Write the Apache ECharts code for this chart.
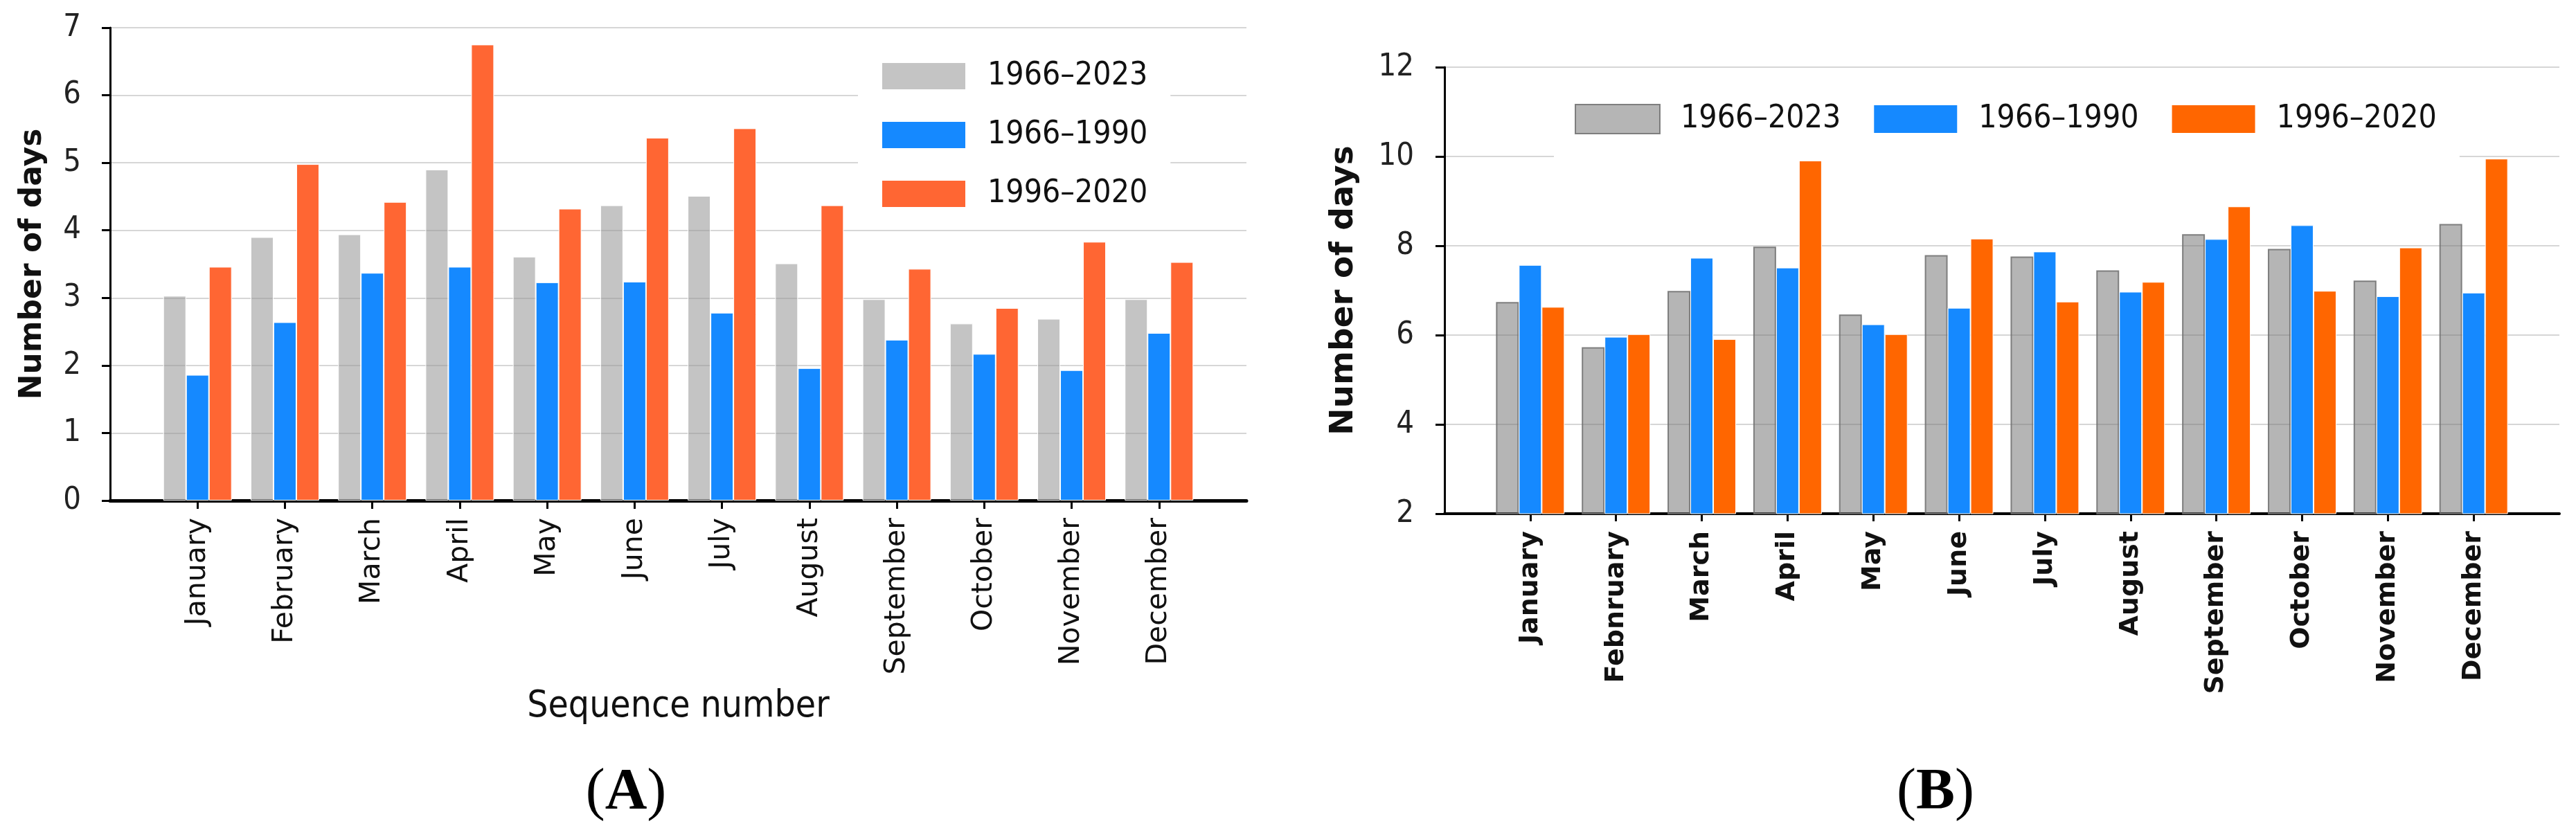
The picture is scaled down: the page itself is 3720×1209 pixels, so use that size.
<!DOCTYPE html>
<html><head><meta charset="utf-8">
<script src="https://cdn.jsdelivr.net/npm/echarts@6/dist/echarts.min.js"></script>
<style>
html,body{margin:0;padding:0;background:#fff;}
#a,#b{position:absolute;top:0;width:1860px;height:1209px;}
#a{left:0}#b{left:1860px}
</style>
</head><body><div id="a"></div><div id="b"></div>
<script>
// ---- data ----
const monthsA = ['January','February','March','April','May','June','July','August','September','October','November','December'];
const monthsB = ['January','Febnruary','March','April','May','June','July','August','September','October','November','December'];
const seriesNames = ['1966–2023','1966–1990','1996–2020'];
// Panel A
const aAll   = [3.03, 3.90, 3.94, 4.90, 3.61, 4.37, 4.51, 3.51, 2.98, 2.62, 2.69, 2.98];
const aEarly = [1.86, 2.64, 3.37, 3.46, 3.23, 3.24, 2.78, 1.96, 2.38, 2.17, 1.93, 2.48];
const aLate  = [3.46, 4.98, 4.42, 6.75, 4.32, 5.37, 5.51, 4.37, 3.43, 2.85, 3.83, 3.53];
// Panel B
const bAll   = [6.74, 5.73, 6.99, 7.98, 6.46, 7.79, 7.76, 7.45, 8.26, 7.93, 7.22, 8.49];
const bEarly = [7.57, 5.96, 7.73, 7.51, 6.24, 6.61, 7.87, 6.97, 8.15, 8.46, 6.87, 6.95];
const bLate  = [6.63, 6.02, 5.91, 9.92, 6.02, 8.16, 6.75, 7.19, 8.88, 6.99, 7.96, 9.95];
// axis ticks
const yTicksA = [0, 1, 2, 3, 4, 5, 6, 7];
const yTicksB = [2, 4, 6, 8, 10, 12];
const yNameA = 'Number of days';
const yNameB = 'Number of days';
const xNameA = 'Sequence number';

// ---- helpers ----
const COND = '"DejaVu Sans Condensed", "Liberation Sans Narrow", sans-serif';
const SANS = '"DejaVu Sans", Verdana, sans-serif';
const pad = v => [null].concat(v, [null]);
const padCat = c => [''].concat(c, ['']);

function makeOption(cfg) {
  return {
    animation: false,
    backgroundColor: '#fff',
    grid: cfg.grid,
    legend: Object.assign({
      icon: 'rect', selectedMode: false, backgroundColor: '#fff',
      data: seriesNames,
      textStyle: { fontFamily: COND, fontSize: 46, color: '#111', padding: [0, 0, 0, 26] }
    }, cfg.legend),
    xAxis: {
      type: 'category', boundaryGap: false, data: padCat(cfg.cats),
      name: cfg.xName || '', nameLocation: 'middle', nameGap: cfg.xNameGap || 0,
      nameTextStyle: { fontFamily: COND, fontSize: 53, color: '#111' },
      axisLine: { lineStyle: { color: '#000', width: cfg.xAxisWidth } },
      axisTick: { show: true, interval: (i, v) => v !== '', length: cfg.tickLen, lineStyle: { color: '#000', width: 3 } },
      axisLabel: { interval: 0, rotate: 90, margin: cfg.xLabelMargin, fontFamily: SANS, fontSize: cfg.xLabelSize, fontWeight: cfg.xLabelWeight, color: '#111' },
      splitLine: { show: false }
    },
    yAxis: {
      type: 'value', min: cfg.yTicks[0], max: cfg.yTicks[cfg.yTicks.length - 1],
      interval: cfg.yTicks[1] - cfg.yTicks[0],
      name: cfg.yName, nameLocation: 'middle', nameRotate: 90, nameGap: cfg.yNameGap,
      nameTextStyle: { fontFamily: SANS, fontWeight: 'bold', fontSize: cfg.yNameSize, color: '#111' },
      axisLine: { show: true, lineStyle: { color: '#000', width: 3 } },
      axisTick: { show: true, length: cfg.yTickLen, lineStyle: { color: '#000', width: 3 } },
      axisLabel: { margin: cfg.yLabelMargin, fontFamily: COND, fontSize: 45, color: '#222' },
      splitLine: { show: true, lineStyle: { color: '#d6d6d6', width: 2 } }
    },
    graphic: [{
      type: 'text', x: cfg.tagX, y: 1146,
      style: {
        text: '{p|(}{b|' + cfg.tag + '}{p|)}', align: 'center', verticalAlign: 'middle',
        rich: {
          p: { fontFamily: '"Liberation Serif", serif', fontSize: 84, fill: '#000' },
          b: { fontFamily: '"Liberation Serif", serif', fontSize: 84, fontWeight: 'bold', fill: '#000' }
        }
      }
    }],
    series: cfg.data.map((d, i) => ({
      name: seriesNames[i], type: 'bar', data: pad(d),
      barWidth: 33, barGap: '0%',
      itemStyle: cfg.styles[i]
    }))
  };
}

const chartA = echarts.init(document.getElementById('a'), null, { renderer: 'canvas' });
chartA.setOption(makeOption({
  grid: { left: 159, right: 60, top: 40, bottom: 486 },
  legend: { orient: 'vertical', left: 1239, top: 62, padding: [25, 33, 25, 33], itemWidth: 122, itemHeight: 40, itemGap: 39 },
  cats: monthsA, xName: xNameA, xNameGap: 272, xAxisWidth: 5, tickLen: 12,
  xLabelMargin: 25, xLabelSize: 41, xLabelWeight: 'normal',
  yTicks: yTicksA, yName: yNameA, yNameGap: 89, yNameSize: 44, yTickLen: 12, yLabelMargin: 42,
  tag: 'A', tagX: 904,
  data: [aAll, aEarly, aLate],
  styles: [
    { color: 'rgba(150,150,150,0.56)', borderColor: '#fff', borderWidth: 1 },
    { color: '#1589ff', borderColor: '#fff', borderWidth: 1 },
    { color: '#ff6633', borderColor: '#fff', borderWidth: 1 }
  ]
}));

const chartB = echarts.init(document.getElementById('b'), null, { renderer: 'canvas' });
chartB.setOption(makeOption({
  grid: { left: 226, right: 24, top: 97, bottom: 467 },
  legend: { orient: 'horizontal', left: 384, top: 120, padding: [29, 33, 38, 30], itemWidth: 122, itemHeight: 42, itemGap: 46,
    textStyle: { fontFamily: COND, fontSize: 46, color: '#111', padding: [0, 0, 0, 25] } },
  cats: monthsB, xAxisWidth: 4, tickLen: 11,
  xLabelMargin: 25, xLabelSize: 38, xLabelWeight: 'bold',
  yTicks: yTicksB, yName: yNameB, yNameGap: 122, yNameSize: 47, yTickLen: 13, yLabelMargin: 44,
  tag: 'B', tagX: 935,
  data: [bAll, bEarly, bLate],
  styles: [
    { color: 'rgba(120,120,120,0.55)', borderColor: 'rgba(110,110,110,0.85)', borderWidth: 2 },
    { color: '#1589ff', borderColor: '#fff', borderWidth: 1 },
    { color: '#ff6600', borderColor: '#fff', borderWidth: 1 }
  ]
}));
</script>
</body></html>
